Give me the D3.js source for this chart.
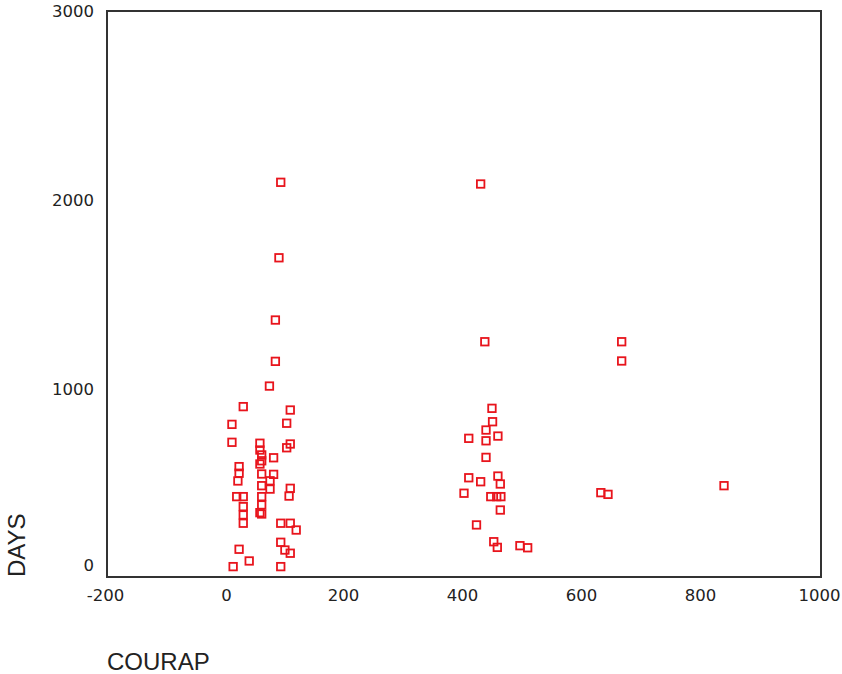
<!DOCTYPE html>
<html>
<head>
<meta charset="utf-8">
<script src="https://cdn.jsdelivr.net/npm/d3@7/dist/d3.min.js"></script>
<style>
  html, body { margin: 0; padding: 0; background: #fff; }
</style>
</head>
<body>
<svg id="chart" width="842" height="674"></svg>
<script>
// ---- data ----
const courap = [
  92, 89, 83, 83, 73, 29, 108, 10, 102, 10, 57, 108, 102, 57, 60, 80, 57, 60, 22, 22,
  60, 80, 74, 20, 60, 74, 108, 18, 29, 106, 60, 29, 60, 29, 57, 60, 29, 92, 108, 118,
  92, 99, 108, 22, 39, 12, 92,
  428, 435, 447, 448, 437, 408, 437, 457, 437, 408, 428, 457, 461, 400, 445, 455, 462,
  461, 421, 450, 456, 494, 507,
  665, 665, 630, 642, 837
];
const days = [
  2092, 1692, 1362, 1143, 1012, 903, 885, 809, 815, 714, 709, 705, 685, 673, 647, 632, 599, 616, 585, 550,
  546, 544, 510, 509, 484, 466, 470, 426, 426, 429, 426, 373, 382, 329, 341, 334, 285, 285, 285, 249,
  184, 143, 126, 147, 85, 55, 55,
  2083, 1247, 894, 823, 779, 735, 722, 747, 634, 526, 505, 535, 493, 444, 426, 426, 426,
  355, 276, 187, 157, 166, 155,
  1247, 1145, 447, 438, 484
];
const xTicks = [-200, 0, 200, 400, 600, 800, 1000];
const yTicks = [0, 1000, 2000, 3000];
const xTitle = "COURAP";
const yTitle = "DAYS";

// ---- layout ----
const svg = d3.select("#chart");
const pL = 107, pR = 821, pT = 11, pB = 577;

const x = d3.scaleLinear().domain([-200, 1000]).range([pL, pR]);
const y = d3.scaleLinear().domain([0, 3000]).range([pB, pT]);

// frame
svg.append("rect")
  .attr("x", pL).attr("y", pT)
  .attr("width", pR - pL).attr("height", pB - pT)
  .attr("fill", "none").attr("stroke", "#333").attr("stroke-width", 2);

// x axis
const xAxis = svg.append("g")
  .attr("transform", `translate(0,${pB})`)
  .call(d3.axisBottom(x).tickValues(xTicks).tickSize(0).tickPadding(0).tickFormat(d => String(d)));
xAxis.select(".domain").remove();
xAxis.selectAll("text")
  .attr("font-family", "DejaVu Sans, Verdana, sans-serif")
  .attr("font-size", 16.5)
  .attr("fill", "#222")
  .attr("dy", "0")
  .attr("y", 24)
  .attr("dx", d => d === -200 ? -2 : (d >= 200 ? -2 : 0));

// y axis
const yAxis = svg.append("g")
  .attr("transform", `translate(${pL},0)`)
  .call(d3.axisLeft(y).tickValues(yTicks).tickSize(0).tickPadding(13).tickFormat(d => String(d)));
yAxis.select(".domain").remove();
yAxis.selectAll("text")
  .attr("font-family", "DejaVu Sans, Verdana, sans-serif")
  .attr("font-size", 16.5)
  .attr("fill", "#222")
  .attr("dy", d => d === 0 ? "-0.4em" : "0.35em");

// axis titles
svg.append("text")
  .attr("x", 107).attr("y", 670)
  .attr("font-family", "Liberation Sans, Arial, sans-serif")
  .attr("font-size", 24)
  .attr("fill", "#222")
  .text(xTitle);

svg.append("text")
  .attr("transform", "translate(25,577) rotate(-90)")
  .attr("font-family", "Liberation Sans, Arial, sans-serif")
  .attr("font-size", 24)
  .attr("fill", "#222")
  .text(yTitle);

// points
const pts = courap.map((c, i) => ({ c, d: days[i] }));
const s = 7.5;
svg.append("g").selectAll("rect")
  .data(pts)
  .join("rect")
  .attr("x", p => x(p.c) - s / 2)
  .attr("y", p => y(p.d) - s / 2)
  .attr("width", s).attr("height", s)
  .attr("fill", "none")
  .attr("stroke", "#e8141c")
  .attr("stroke-width", 1.8);
</script>
</body>
</html>
